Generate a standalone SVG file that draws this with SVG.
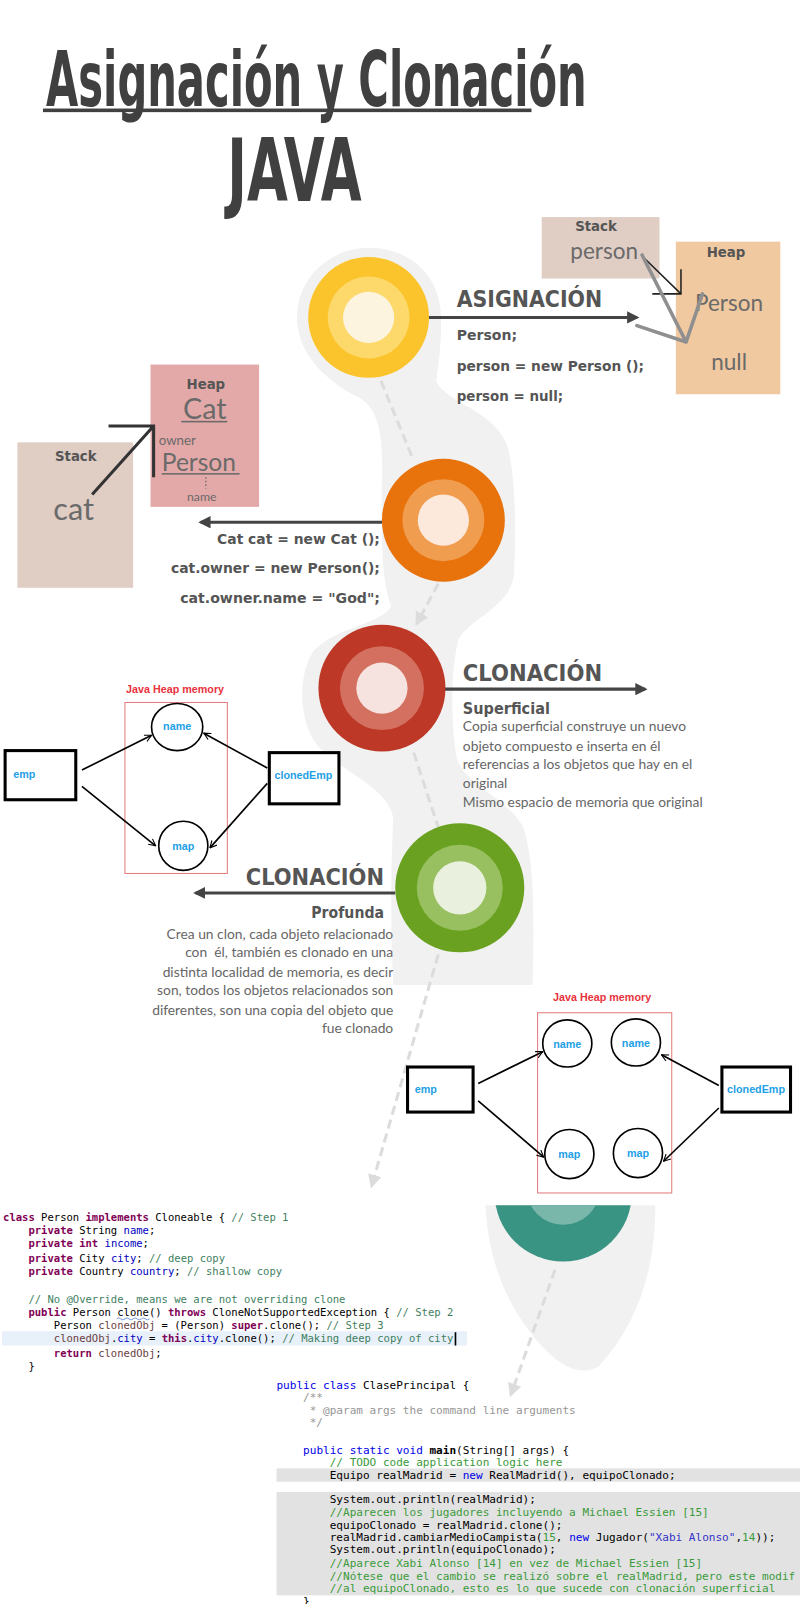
<svg xmlns="http://www.w3.org/2000/svg" width="800" height="1604" viewBox="0 0 800 1604">
<defs>
<style>
.title{font-family:"Liberation Sans Narrow","DejaVu Sans Condensed","Roboto Condensed",sans-serif;font-weight:bold;fill:#404040}
.hd{font-family:"DejaVu Sans","Open Sans",sans-serif;font-weight:bold;fill:#555}
.cd{font-family:"DejaVu Sans","Open Sans",sans-serif;font-weight:bold;font-size:14px;fill:#555}
.sub{font-family:"DejaVu Sans","Open Sans",sans-serif;font-weight:bold;font-size:15px;fill:#555}
.body{font-family:Lato,"Open Sans",sans-serif;font-size:13.5px;fill:#666}
.lbl{font-family:"DejaVu Sans","Open Sans",sans-serif;font-weight:bold;font-size:13px;fill:#555}
.big{font-family:Lato,"Open Sans",sans-serif;fill:#6a6a6a}
.hp{font-family:"Liberation Sans",Arial,sans-serif;font-weight:bold;font-size:10.5px;fill:#e8323c}
.nd{font-family:"Liberation Sans",Arial,sans-serif;font-weight:bold;font-size:10.5px;fill:#1ea0e6}
.box{fill:#fff;stroke:#000;stroke-width:3}
.ell{fill:#fff;stroke:#000;stroke-width:1.6}
.hr{fill:none;stroke:#e47a7a;stroke-width:1}
.ha{fill:none;stroke:#000;stroke-width:1.6;marker-end:url(#open)}
.main{fill:none;stroke:#444;stroke-width:3}
.dash{fill:none;stroke:#dcdcdc;stroke-width:3;stroke-dasharray:9 5}
.c1{font-family:"DejaVu Sans Mono","Liberation Mono",monospace;font-size:10.3px;fill:#000;white-space:pre}
.c2{font-family:"DejaVu Sans Mono","Liberation Mono",monospace;font-size:10.8px;fill:#000;white-space:pre}
.kw{fill:#7f0055;font-weight:bold}
.cm{fill:#3f7f5f}
.fd{fill:#0000c0}
.lv{fill:#6a3e3e}
.nk{fill:#0000e6}
.nc{fill:#969696}
.ng{fill:#3a9a3a}
.ns{fill:#3232c8}
</style>
<marker id="arrDark" viewBox="0 0 10 10" refX="8" refY="5" markerWidth="4" markerHeight="4" orient="auto"><path d="M0,0 L10,5 L0,10 z" fill="#444"/></marker>
<marker id="arrGray" viewBox="0 0 10 10" refX="8" refY="5" markerWidth="4.5" markerHeight="4.5" orient="auto"><path d="M0,0 L10,5 L0,10 z" fill="#dcdcdc"/></marker>
<marker id="open" viewBox="0 0 12 12" refX="11" refY="6" markerWidth="8" markerHeight="8" markerUnits="userSpaceOnUse" orient="auto"><path d="M1,1 L11,6 L1,11" fill="none" stroke="#000" stroke-width="1.6"/></marker>
<clipPath id="tealClip"><rect x="400" y="1177" width="300" height="120"/></clipPath>
<clipPath id="code2Clip"><rect x="268" y="1340" width="520" height="280"/></clipPath>
</defs>
<rect width="800" height="1604" fill="#fff"/>
<g transform="scale(1.024)">

<g id="title">
<text class="title" x="45" y="104" font-size="74" textLength="528" lengthAdjust="spacingAndGlyphs">Asignación y Clonación</text>
<rect x="42" y="106" width="477" height="3.5" fill="#404040"/>
<text class="title" x="222" y="196" font-size="86" textLength="131" lengthAdjust="spacingAndGlyphs">JAVA</text>
</g>

<g id="ribbon" fill="#f0f1f0">
<path d="M360 242 C322 242 290 272 290 310 C290 345 318 372 350 388 C372 400 374 430 373 470 C372 520 372 565 382 592 C372 610 328 612 306 636 C290 660 292 706 310 728 C330 752 382 770 384 800 C382 840 381 900 384 962 L520 962 C522 900 522 836 510 806 C495 780 452 764 446 740 C440 706 440 652 448 624 C458 604 500 592 502 560 C504 520 504 458 494 432 C480 400 434 392 426 372 C430 345 432 322 430 300 C425 264 396 242 360 242 Z"/>
<path d="M474 1177 L640 1177 C640 1245 620 1296 585 1334 C560 1350 530 1320 510 1290 C484 1252 476 1212 474 1177 Z"/>
</g>

<g id="connectors">
<path class="dash" d="M372 372 L404 450"/>
<path class="dash" d="M428 570 L407 609" marker-end="url(#arrGray)"/>
<path class="dash" d="M404 735 L428 808"/>
<path class="dash" d="M428 932 L363 1158" marker-end="url(#arrGray)"/>
<path class="main" d="M418 310 L622 310" marker-end="url(#arrDark)"/>
<path class="main" d="M373 510 L196 510" marker-end="url(#arrDark)"/>
<path class="main" d="M434 673 L630 673" marker-end="url(#arrDark)"/>
<path class="main" d="M386 872 L191 872" marker-end="url(#arrDark)"/>
</g>

<g id="node-asignacion">
<circle cx="360" cy="310" r="59" fill="#fbc42c"/>
<circle cx="360" cy="310" r="40" fill="#fdd86a"/>
<circle cx="360" cy="310" r="25" fill="#fdf4e0"/>
<text class="hd" x="446" y="300" font-size="22" textLength="142" lengthAdjust="spacingAndGlyphs">ASIGNACIÓN</text>
<text class="cd" x="446" y="332" textLength="59" lengthAdjust="spacingAndGlyphs">Person;</text>
<text class="cd" x="446" y="362" textLength="183" lengthAdjust="spacingAndGlyphs">person = new Person ();</text>
<text class="cd" x="446" y="392" textLength="104" lengthAdjust="spacingAndGlyphs">person = null;</text>
</g>

<g id="stack-heap-1">
<rect x="529" y="212" width="115" height="60" fill="#e0cdc4"/>
<text class="lbl" x="582" y="226" text-anchor="middle">Stack</text>
<text class="big" x="590" y="253" font-size="22" text-anchor="middle">person</text>
<rect x="660" y="236" width="102" height="149" fill="#f0c9a0"/>
<text class="lbl" x="709" y="251" text-anchor="middle">Heap</text>
<text class="big" x="712" y="304" font-size="22" text-anchor="middle">Person</text>
<text class="big" x="712" y="361" font-size="22" text-anchor="middle">null</text>
<path d="M628 251 L665 287 M665 263 L665 287 L637 287" fill="none" stroke="#222" stroke-width="1.5"/>
<path d="M627 249 L670 334 M622 318 L670 334 L686 287" fill="none" stroke="#8f8f8f" stroke-width="3.5" stroke-linecap="round" stroke-linejoin="round"/>
</g>

<g id="node-cat">
<circle cx="433" cy="508" r="60" fill="#e8720c"/>
<circle cx="433" cy="508" r="40" fill="#f09d50"/>
<circle cx="433" cy="508" r="25" fill="#fce9dc"/>
<text class="cd" x="371" y="531" text-anchor="end" textLength="159" lengthAdjust="spacingAndGlyphs">Cat cat = new Cat ();</text>
<text class="cd" x="371" y="560" text-anchor="end" textLength="204" lengthAdjust="spacingAndGlyphs">cat.owner = new Person();</text>
<text class="cd" x="371" y="589" text-anchor="end" textLength="195" lengthAdjust="spacingAndGlyphs">cat.owner.name = "God";</text>
</g>

<g id="stack-heap-2">
<rect x="17" y="432" width="113" height="142" fill="#e0cdc4"/>
<text class="lbl" x="74" y="450" text-anchor="middle">Stack</text>
<text class="big" x="72" y="508" font-size="30" text-anchor="middle">cat</text>
<rect x="147" y="356" width="106" height="139" fill="#e3a9a8"/>
<text class="lbl" x="201" y="380" text-anchor="middle">Heap</text>
<text class="big" x="200" y="409" font-size="28" text-anchor="middle">Cat</text>
<rect x="177" y="411" width="45" height="1.5" fill="#6a6a6a"/>
<text class="big" x="155" y="435" font-size="13">owner</text>
<text class="big" x="158" y="460" font-size="24">Person</text>
<rect x="158" y="462" width="76" height="1.5" fill="#6a6a6a"/>
<path d="M201 466 L201 477" stroke="#6a6a6a" stroke-width="1.2" stroke-dasharray="1.5 2"/>
<text class="big" x="197" y="489" font-size="12" text-anchor="middle">name</text>
<path d="M90 483 L150 416 M106 416 L150 416 L150 466" fill="none" stroke="#333" stroke-width="3"/>
</g>

<g id="node-superficial">
<circle cx="373" cy="672" r="62" fill="#bd3826"/>
<circle cx="373" cy="672" r="41" fill="#d47060"/>
<circle cx="373" cy="672" r="25" fill="#f6e2de"/>
<text class="hd" x="452" y="665" font-size="22" textLength="136" lengthAdjust="spacingAndGlyphs">CLONACIÓN</text>
<text class="sub" x="452" y="697" textLength="85" lengthAdjust="spacingAndGlyphs">Superficial</text>
<text class="body" x="452" y="714">Copia superficial construye un nuevo</text>
<text class="body" x="452" y="733">objeto compuesto e inserta en él</text>
<text class="body" x="452" y="751">referencias a los objetos que hay en el</text>
<text class="body" x="452" y="770">original</text>
<text class="body" x="452" y="788">Mismo espacio de memoria que original</text>
</g>

<g id="heap-shallow">
<text class="hp" x="171" y="677" text-anchor="middle">Java Heap memory</text>
<rect class="hr" x="122" y="686" width="100" height="167"/>
<ellipse class="ell" cx="173" cy="710" rx="25" ry="23"/>
<ellipse class="ell" cx="179" cy="826" rx="24" ry="24"/>
<text class="nd" x="173" y="713" text-anchor="middle">name</text>
<text class="nd" x="179" y="830" text-anchor="middle">map</text>
<rect class="box" x="5" y="733" width="69" height="48"/>
<text class="nd" x="13" y="760">emp</text>
<rect class="box" x="263" y="735" width="68" height="50"/>
<text class="nd" x="268" y="761">clonedEmp</text>
<path class="ha" d="M80 752 L148 718"/>
<path class="ha" d="M80 768 L152 826"/>
<path class="ha" d="M261 750 L199 716"/>
<path class="ha" d="M261 765 L205 828"/>
</g>

<g id="node-profunda">
<circle cx="449" cy="867" r="63" fill="#6aa120"/>
<circle cx="449" cy="867" r="42" fill="#98c060"/>
<circle cx="449" cy="867" r="26" fill="#e9f1de"/>
<text class="hd" x="375" y="864" font-size="22" text-anchor="end" textLength="135" lengthAdjust="spacingAndGlyphs">CLONACIÓN</text>
<text class="sub" x="375" y="896" text-anchor="end" textLength="71" lengthAdjust="spacingAndGlyphs">Profunda</text>
<text class="body" x="384" y="917" text-anchor="end">Crea un clon, cada objeto relacionado</text>
<text class="body" x="384" y="935" text-anchor="end" xml:space="preserve">con  él, también es clonado en una</text>
<text class="body" x="384" y="954" text-anchor="end">distinta localidad de memoria, es decir</text>
<text class="body" x="384" y="972" text-anchor="end">son, todos los objetos relacionados son</text>
<text class="body" x="384" y="991" text-anchor="end">diferentes, son una copia del objeto que</text>
<text class="body" x="384" y="1009" text-anchor="end">fue clonado</text>
</g>

<g id="heap-deep">
<text class="hp" x="588" y="978" text-anchor="middle">Java Heap memory</text>
<rect class="hr" x="525" y="989" width="131" height="176"/>
<ellipse class="ell" cx="554" cy="1019" rx="24" ry="23"/>
<ellipse class="ell" cx="621" cy="1018" rx="24" ry="23"/>
<ellipse class="ell" cx="556" cy="1127" rx="24" ry="24"/>
<ellipse class="ell" cx="623" cy="1126" rx="24" ry="24"/>
<text class="nd" x="554" y="1023" text-anchor="middle">name</text>
<text class="nd" x="621" y="1022" text-anchor="middle">name</text>
<text class="nd" x="556" y="1131" text-anchor="middle">map</text>
<text class="nd" x="623" y="1130" text-anchor="middle">map</text>
<rect class="box" x="398" y="1042" width="64" height="44"/>
<text class="nd" x="405" y="1067">emp</text>
<rect class="box" x="705" y="1042" width="67" height="44"/>
<text class="nd" x="710" y="1067">clonedEmp</text>
<path class="ha" d="M467 1058 L530 1027"/>
<path class="ha" d="M467 1075 L531 1130"/>
<path class="ha" d="M702 1060 L646 1030"/>
<path class="ha" d="M702 1082 L648 1134"/>
</g>

<g id="node-teal" clip-path="url(#tealClip)">
<circle cx="550" cy="1165" r="67" fill="#3a9483"/>
<circle cx="550" cy="1160" r="36" fill="#7ab7ab"/>
</g>

<g id="code-person">
<rect x="2" y="1300" width="454" height="14" fill="#e8f0fa"/>
<text class="c1" x="3" y="1192" xml:space="preserve"><tspan class="kw">class</tspan> Person <tspan class="kw">implements</tspan> Cloneable { <tspan class="cm">// Step 1</tspan></text>
<text class="c1" x="3" y="1205" xml:space="preserve">    <tspan class="kw">private</tspan> String <tspan class="fd">name</tspan>;</text>
<text class="c1" x="3" y="1218" xml:space="preserve">    <tspan class="kw">private</tspan> <tspan class="kw">int</tspan> <tspan class="fd">income</tspan>;</text>
<text class="c1" x="3" y="1232" xml:space="preserve">    <tspan class="kw">private</tspan> City <tspan class="fd">city</tspan>; <tspan class="cm">// deep copy</tspan></text>
<text class="c1" x="3" y="1245" xml:space="preserve">    <tspan class="kw">private</tspan> Country <tspan class="fd">country</tspan>; <tspan class="cm">// shallow copy</tspan></text>
<text class="c1" x="3" y="1272" xml:space="preserve">    <tspan class="cm">// No @Override, means we are not overriding clone</tspan></text>
<text class="c1" x="3" y="1285" xml:space="preserve">    <tspan class="kw">public</tspan> Person clone() <tspan class="kw">throws</tspan> CloneNotSupportedException { <tspan class="cm">// Step 2</tspan></text>
<text class="c1" x="3" y="1298" xml:space="preserve">        Person <tspan class="lv">clonedObj</tspan> = (Person) <tspan class="kw">super</tspan>.clone(); <tspan class="cm">// Step 3</tspan></text>
<text class="c1" x="3" y="1311" xml:space="preserve">        <tspan class="lv">clonedObj</tspan>.<tspan class="fd">city</tspan> = <tspan class="kw">this</tspan>.<tspan class="fd">city</tspan>.clone(); <tspan class="cm">// Making deep copy of city</tspan></text>
<text class="c1" x="3" y="1325" xml:space="preserve">        <tspan class="kw">return</tspan> <tspan class="lv">clonedObj</tspan>;</text>
<text class="c1" x="3" y="1338" xml:space="preserve">    }</text>
<path d="M114 1288 q2 -2 4 0 t4 0 t4 0 t4 0 t4 0 t4 0 t4 0 t4 0" fill="none" stroke="#6a8fd8" stroke-width="0.9"/>
<rect x="444" y="1301" width="1.6" height="13" fill="#000"/>
</g>

<g id="code-main" clip-path="url(#code2Clip)">
<rect x="270" y="1434" width="520" height="13" fill="#e2e2e2"/>
<rect x="270" y="1457" width="520" height="101" fill="#e2e2e2"/>
<text class="c2" x="270" y="1356" xml:space="preserve"><tspan class="nk">public</tspan> <tspan class="nk">class</tspan> ClasePrincipal {</text>
<text class="c2 nc" x="270" y="1368" xml:space="preserve">    /**</text>
<text class="c2 nc" x="270" y="1381" xml:space="preserve">     * @param args the command line arguments</text>
<text class="c2 nc" x="270" y="1393" xml:space="preserve">     */</text>
<text class="c2" x="270" y="1420" xml:space="preserve">    <tspan class="nk">public</tspan> <tspan class="nk">static</tspan> <tspan class="nk">void</tspan> <tspan font-weight="bold">main</tspan>(String[] args) {</text>
<text class="c2 ng" x="270" y="1432" xml:space="preserve">        // TODO code application logic here</text>
<text class="c2" x="270" y="1444" xml:space="preserve">        Equipo realMadrid = <tspan class="nk">new</tspan> RealMadrid(), equipoClonado;</text>
<text class="c2" x="270" y="1468" xml:space="preserve">        System.out.println(realMadrid);</text>
<text class="c2 ng" x="270" y="1480" xml:space="preserve">        //Aparecen los jugadores incluyendo a Michael Essien [15]</text>
<text class="c2" x="270" y="1493" xml:space="preserve">        equipoClonado = realMadrid.clone();</text>
<text class="c2" x="270" y="1505" xml:space="preserve">        realMadrid.cambiarMedioCampista(<tspan class="ng">15</tspan>, <tspan class="nk">new</tspan> Jugador(<tspan class="ns">"Xabi Alonso"</tspan>,<tspan class="ng">14</tspan>));</text>
<text class="c2" x="270" y="1517" xml:space="preserve">        System.out.println(equipoClonado);</text>
<text class="c2 ng" x="270" y="1530" xml:space="preserve">        //Aparece Xabi Alonso [14] en vez de Michael Essien [15]</text>
<text class="c2 ng" x="270" y="1543" xml:space="preserve">        //Nótese que el cambio se realizó sobre el realMadrid, pero este modif</text>
<text class="c2 ng" x="270" y="1555" xml:space="preserve">        //al equipoClonado, esto es lo que sucede con clonación superficial</text>
<text class="c2" x="270" y="1567" xml:space="preserve">    }</text>
</g>

<g id="connectors-top">
<path class="dash" d="M542 1240 L499 1362" marker-end="url(#arrGray)"/>
</g>
</g>
</svg>
